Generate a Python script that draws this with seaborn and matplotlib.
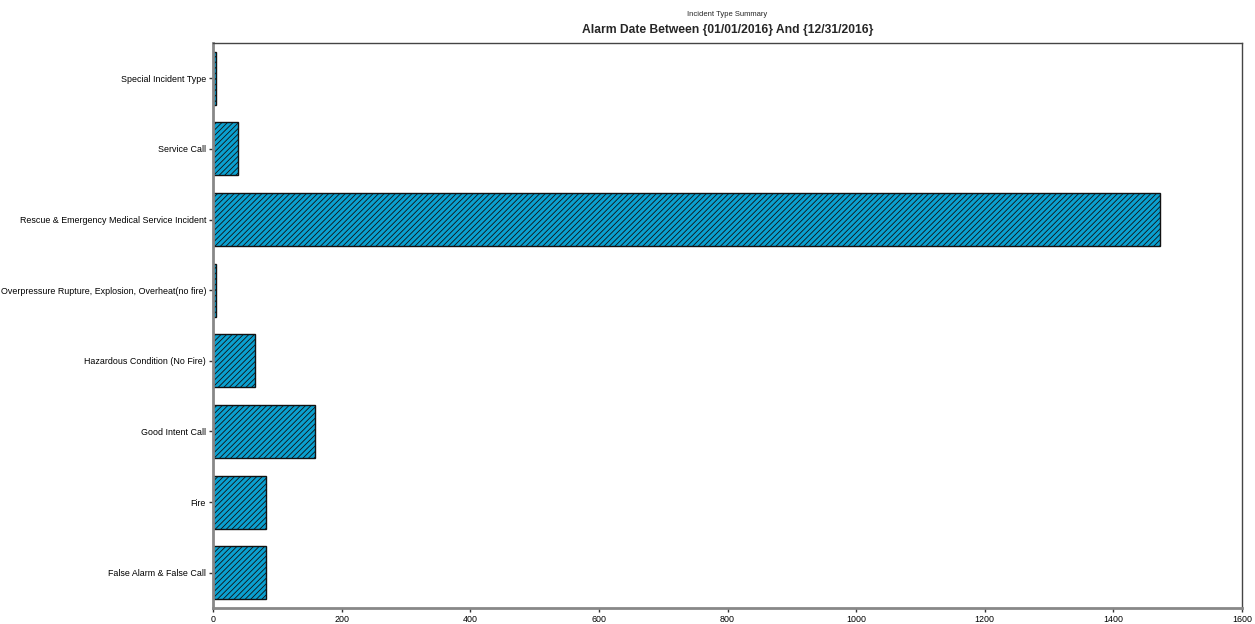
import matplotlib.pyplot as plt
import seaborn as sns
import pandas as pd

# Incident counts, listed top to bottom as in the chart
categories = ['Special Incident Type', 'Service Call',
              'Rescue & Emergency Medical Service Incident',
              'Overpressure Rupture, Explosion, Overheat(no fire)',
              'Hazardous Condition (No Fire)', 'Good Intent Call',
              'Fire', 'False Alarm & False Call']
counts = [4, 39, 1472, 4, 65, 159, 82, 82]
xticks = [0, 200, 400, 600, 800, 1000, 1200, 1400, 1600]

df = pd.DataFrame({'Type': categories, 'Count': counts})

sns.set_style('white')
plt.rcParams['font.family'] = ['Liberation Sans', 'DejaVu Sans']
plt.rcParams['hatch.linewidth'] = 0.6
plt.rcParams['hatch.color'] = '#111111'

fig = plt.figure(figsize=(12.55, 6.24), dpi=100)
ax = fig.add_axes([213 / 1255, 1 - 608 / 624, 1029 / 1255, 565 / 624])

sns.barplot(x='Count', y='Type', data=df, color='#0aa0d0', saturation=1,
            width=0.75, edgecolor='#111111', linewidth=1, hatch='//////', ax=ax)

ax.set_xlim(0, 1600)
ax.set_xticks(xticks)
ax.set_xlabel('')
ax.set_ylabel('')
ax.tick_params(axis='both', labelsize=6.4, length=3, width=1, color='#333333',
               labelcolor='black', pad=2, bottom=True, left=True)

# grey left/bottom axes like the original report
for side in ['left', 'bottom']:
    ax.spines[side].set_color('#888888')
    ax.spines[side].set_linewidth(2)
for side in ['top', 'right']:
    ax.spines[side].set_color('#444444')
    ax.spines[side].set_linewidth(1)

# two-line title
cx = 0.5 * (213 + 1242) / 1255
fig.text(cx, 1 - 15 / 624, 'Incident Type Summary', ha='center', va='center', fontsize=5.5)
fig.text(cx, 1 - 30 / 624, 'Alarm Date Between {01/01/2016} And {12/31/2016}',
         ha='center', va='center', fontsize=8.7, fontweight='bold')

plt.savefig('out.png', dpi=100)
